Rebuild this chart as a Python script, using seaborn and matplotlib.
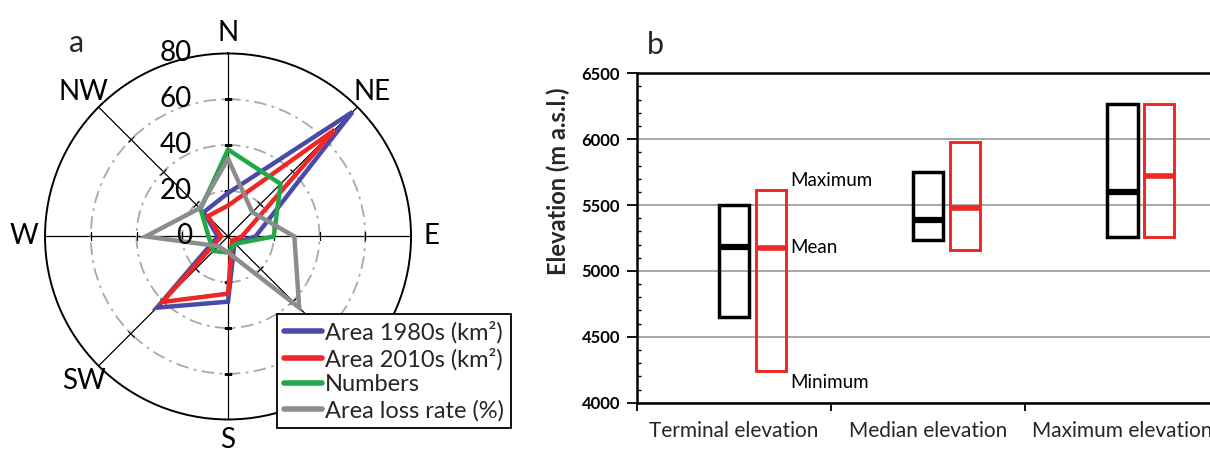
import numpy as np
import pandas as pd
import matplotlib
matplotlib.use("Agg")
import matplotlib.pyplot as plt
import seaborn as sns
from matplotlib.markers import MarkerStyle
from matplotlib.transforms import Affine2D
from matplotlib.ticker import MultipleLocator, NullFormatter

# ---------------- data: panel a (radar) ----------------
directions = ['N', 'NE', 'E', 'SE', 'S', 'SW', 'W', 'NW']
area_1980s = [19, 77, 12, 4, 28.5, 44, 4.5, 15]
area_2010s = [13.5, 66, 6, 2.5, 25, 40.5, 3, 12.5]
glacier_numbers = [38, 32.5, 20, 4.5, 7, 9, 8.5, 17]
area_loss_rate = [34, 15, 29, 44, 7, 6, 36, 17.5]
series_labels = ['Area 1980s (km²)', 'Area 2010s (km²)', 'Numbers', 'Area loss rate (%)']
radial_ticks = [0, 20, 40, 60, 80]
hidden_direction_labels = ['SE']   # covered by the legend in the original

# ---------------- data: panel b (elevation ranges) ----------------
categories = ['Terminal elevation', 'Median elevation', 'Maximum elevation']
min_1980s = [4650, 5235, 5260]
max_1980s = [5500, 5750, 6270]
mean_1980s = [5185, 5390, 5600]
min_2010s = [4240, 5160, 5260]
max_2010s = [5615, 5975, 6265]
mean_2010s = [5175, 5475, 5720]
elev_ticks = [4000, 4500, 5000, 5500, 6000, 6500]
range_labels = ['Maximum', 'Mean', 'Minimum']

# ---------------- style ----------------
sns.set_theme(style="white")
plt.rcParams['font.family'] = ['Lato', 'DejaVu Sans']

BLUE = '#4A4AA8'
RED = '#EE2626'
GREEN = '#22A84A'
GRAY = '#8C8C8C'
palette = dict(zip(series_labels, [BLUE, RED, GREEN, GRAY]))

fig = plt.figure(figsize=(12.10, 4.57), dpi=100)

# ---------------- panel a ----------------
axa = fig.add_axes([0.0372, 0.0821, 0.3025, 0.8009], projection='polar')
axa.set_theta_zero_location('N')
axa.set_theta_direction(-1)

theta = np.deg2rad(np.arange(len(directions)) * 360.0 / len(directions))
rows = []
for lab, vals in zip(series_labels, [area_1980s, area_2010s, glacier_numbers, area_loss_rate]):
    th = list(theta) + [theta[0] + 2 * np.pi]
    vv = list(vals) + [vals[0]]
    for t, v in zip(th, vv):
        rows.append({'series': lab, 'theta': t, 'value': v})
radar_df = pd.DataFrame(rows)

sns.lineplot(data=radar_df, x='theta', y='value', hue='series', hue_order=series_labels,
             palette=palette, sort=False, estimator=None, linewidth=3.2, ax=axa,
             solid_joinstyle='miter', legend=True, zorder=3)
handles, labels = axa.get_legend_handles_labels()
if axa.get_legend() is not None:
    axa.get_legend().remove()
axa.set_xlabel('')
axa.set_ylabel('')

axa.set_ylim(0, radial_ticks[-1])
axa.set_yticks(radial_ticks[1:-1])
axa.set_yticklabels([])
axa.set_xticks(theta)
axa.set_xticklabels([])
axa.set_axisbelow(True)
axa.yaxis.grid(True, color='#A8A8A8', linewidth=1.3, linestyle=(0, (7, 3, 1.5, 3)))
axa.xaxis.grid(True, color='black', linewidth=0.9, linestyle='-')
axa.spines['polar'].set_color('black')
axa.spines['polar'].set_linewidth(1.4)
axa.set_facecolor('white')

# small tick marks across each spoke at the ring values
for t in theta:
    ms = MarkerStyle('_', transform=Affine2D().rotate_deg(-np.rad2deg(t)))
    axa.plot([t] * 3, radial_ticks[1:-1], linestyle='none', marker=ms,
             markersize=6, markeredgewidth=0.9, color='black', zorder=2)

# ring value labels left of the N spoke
for r in radial_ticks:
    axa.annotate(str(r), xy=(0, r), xytext=(-26, 0), textcoords='offset points',
                 ha='right', va='center', fontsize=20, color='black',
                 annotation_clip=False, zorder=4)

# compass labels
for t, d in zip(theta, directions):
    if d in hidden_direction_labels:
        continue
    dx = 15 * np.sin(t)
    dy = 15 * np.cos(t)
    axa.annotate(d, xy=(t, radial_ticks[-1]), xytext=(dx, dy), textcoords='offset points',
                 ha='center', va='center', fontsize=20, color='black',
                 annotation_clip=False)

leg = fig.legend(handles, labels, loc='upper left', bbox_to_anchor=(0.2289, 0.3129),
                 bbox_transform=fig.transFigure, frameon=True, fancybox=False,
                 fontsize=17, handlelength=1.6, handletextpad=0.15, labelspacing=0.18,
                 borderpad=0.3, borderaxespad=0)
leg.set_zorder(10)
leg.get_frame().set_edgecolor('black')
leg.get_frame().set_linewidth(1.3)
leg.get_frame().set_facecolor('white')
leg.get_frame().set_alpha(1)
for line in leg.get_lines():
    line.set_linewidth(4)

fig.text(77 / 1210, 1 - 43 / 457, 'a', ha='center', va='center', fontsize=22)

# ---------------- panel b ----------------
axb = fig.add_axes([0.5262, 0.1188, 0.4818, 0.7208])
x = np.arange(len(categories))
bw = 0.155
off = 0.19

axb.bar(x, np.subtract(max_1980s, min_1980s), bottom=min_1980s, width=bw,
        fill=False, edgecolor='black', linewidth=2.5, zorder=3)
axb.bar(x + off, np.subtract(max_2010s, min_2010s), bottom=min_2010s, width=bw,
        fill=False, edgecolor=RED, linewidth=2.1, zorder=3)
axb.hlines(mean_1980s, x - bw / 2, x + bw / 2, color='black', linewidth=4.5, zorder=4)
axb.hlines(mean_2010s, x + off - bw / 2, x + off + bw / 2, color=RED, linewidth=4.0, zorder=4)

# range annotations on the first red box
xr = x[0] + off + bw / 2
for lab, val, dy in zip(range_labels, [max_2010s[0], mean_2010s[0], min_2010s[0]], [7, 0, -8]):
    axb.annotate(lab, xy=(xr, val), xytext=(3, dy), textcoords='offset points',
                 ha='left', va='center', fontsize=13.5, color='black')

axb.set_xlim(-0.5, len(categories) - 0.5)
axb.set_ylim(elev_ticks[0], elev_ticks[-1])
axb.set_yticks(elev_ticks)
axb.set_yticklabels([str(t) for t in elev_ticks], fontweight='bold', fontsize=12)
axb.yaxis.set_minor_locator(MultipleLocator(100))
axb.tick_params(axis='y', which='major', direction='out', length=7, width=1.3, pad=5,
                colors='black', left=True)
axb.tick_params(axis='y', which='minor', direction='in', length=3, width=1.0,
                colors='black', left=True)

axb.set_xticks(np.arange(len(categories) + 1) - 0.5)
axb.xaxis.set_major_formatter(NullFormatter())
axb.set_xticks(x, minor=True)
axb.set_xticklabels(categories, minor=True, fontsize=15)
axb.tick_params(axis='x', which='major', direction='out', length=6, width=1.3,
                colors='black', bottom=True)
axb.tick_params(axis='x', which='minor', length=0, pad=13, bottom=True)

axb.grid(axis='y', which='major', color='#A0A0A0', linewidth=1.3)
axb.grid(axis='x', visible=False)
axb.set_axisbelow(True)
for s in ['left', 'bottom', 'top']:
    axb.spines[s].set_color('black')
    axb.spines[s].set_linewidth(1.8)
    axb.spines[s].set_visible(True)
axb.spines['right'].set_visible(False)
axb.set_ylabel('')
axb.set_xlabel('')
fig.text(558 / 1210, 1 - 181.6 / 457, 'Elevation (m a.s.l.)', rotation=90,
         ha='center', va='center', fontsize=17, fontweight='bold')

fig.text(655 / 1210, 1 - 45 / 457, 'b', ha='center', va='center', fontsize=22)

fig.savefig('out.png', dpi=100, facecolor='white')
